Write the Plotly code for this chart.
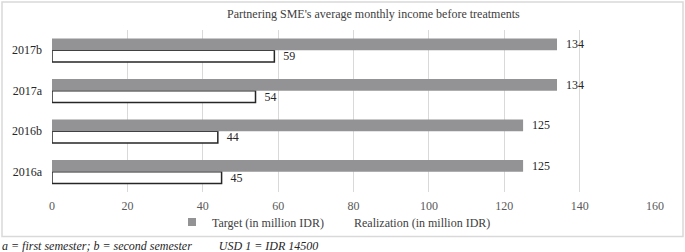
import plotly.graph_objects as go

categories = ["2016a", "2016b", "2017a", "2017b"]
target = [125, 125, 134, 134]
realization = [45, 44, 54, 59]
x_ticks = [0, 20, 40, 60, 80, 100, 120, 140, 160]

W, H = 685, 252
ml, mr, mt, mb = 52, 30, 30, 60
pw, ph = W - ml - mr, H - mt - mb

font = "Liberation Serif, Times New Roman, serif"
gray = "#939395"

fig = go.Figure()
fig.add_trace(go.Bar(
    y=categories, x=realization, orientation="h", name="Realization (in million IDR)",
    marker=dict(color="white", line=dict(color="#262626", width=1.5)),
    texttemplate="  %{x}", textposition="outside",
    textfont=dict(color="#262626", size=12, family=font),
    cliponaxis=False, constraintext="none", showlegend=False,
))
fig.add_trace(go.Bar(
    y=categories, x=target, orientation="h", name="Target (in million IDR)",
    marker=dict(color=gray, line=dict(width=0)),
    texttemplate="  %{x}", textposition="outside",
    textfont=dict(color="#262626", size=12, family=font),
    cliponaxis=False, constraintext="none", showlegend=False,
))
fig.add_trace(go.Scatter(
    x=[None], y=[None], mode="markers", name="Target (in million IDR)",
    marker=dict(symbol="square", color=gray, size=8), legend="legend",
))
fig.add_trace(go.Scatter(
    x=[None], y=[None], mode="markers", name="Realization (in million IDR)",
    marker=dict(symbol="square", color="white", size=8), legend="legend2",
))

def px(x):
    return (x - ml) / pw

def py(y):
    return 1 - (y - mt) / ph

fig.add_shape(type="rect", xref="paper", yref="paper",
              x0=px(2), x1=px(683), y0=py(236.5), y1=py(2),
              line=dict(color="#d9d9d9", width=1.5), fillcolor="rgba(0,0,0,0)", layer="below")

fig.add_annotation(text="Partnering SME's average monthly income before treatments",
                   xref="paper", yref="paper", x=px(373), y=py(14), showarrow=False,
                   font=dict(family=font, size=12, color="#404040"), xanchor="center", yanchor="middle")
fig.add_annotation(text="<i>a = first semester; b = second semester         USD 1 = IDR 14500</i>",
                   xref="paper", yref="paper", x=px(0), y=py(245.5), showarrow=False,
                   font=dict(family=font, size=12, color="#262626"), xanchor="left", yanchor="middle")

legend_common = dict(orientation="h", xanchor="left", yanchor="middle", y=py(222),
                     font=dict(family=font, size=12, color="#404040"),
                     itemwidth=30, bgcolor="rgba(0,0,0,0)", tracegroupgap=0)

fig.update_layout(
    width=W, height=H, margin=dict(l=ml, r=mr, t=mt, b=mb, autoexpand=False),
    barmode="group", bargap=0.424, bargroupgap=0,
    plot_bgcolor="white", paper_bgcolor="white",
    font=dict(family=font, size=12, color="#595959"),
    showlegend=True,
    legend=dict(x=px(172), **legend_common),
    legend2=dict(x=px(314), **legend_common),
    xaxis=dict(range=[0, 160], tickvals=x_ticks, showgrid=True, gridcolor="#d9d9d9", gridwidth=1,
               zeroline=False, showline=False, ticks="", automargin=False, ticklabelstandoff=5,
               tickfont=dict(color="#595959", size=12, family=font)),
    yaxis=dict(showgrid=False, ticks="", showline=False, ticklabelstandoff=9, automargin=False,
               tickfont=dict(color="#262626", size=12, family=font)),
)

fig.write_html("out.html", post_script="document.body.style.margin='0';",
               config={"displayModeBar": False})
